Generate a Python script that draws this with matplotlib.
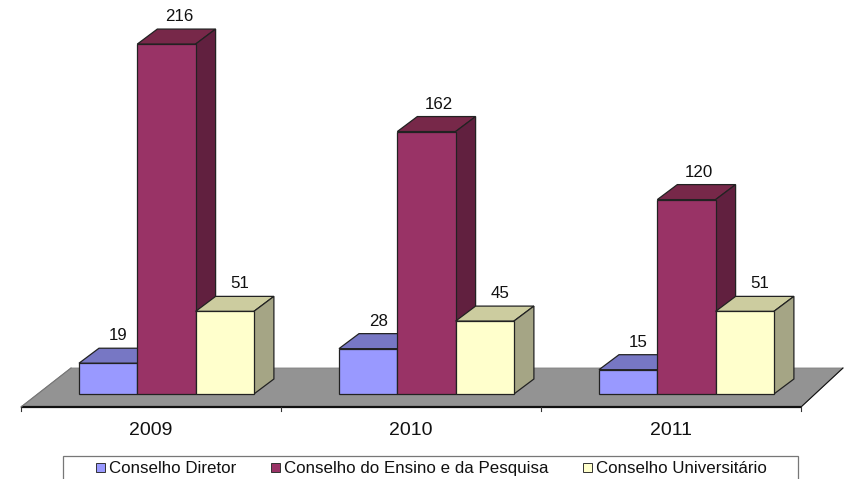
import matplotlib
matplotlib.use('Agg')
import matplotlib.pyplot as plt
from matplotlib.patches import Polygon, Rectangle
from matplotlib.transforms import Affine2D

plt.rcParams['font.family'] = ['Liberation Sans', 'DejaVu Sans']

years = ['2009', '2010', '2011']
series = ['Conselho Diretor', 'Conselho do Ensino e da Pesquisa', 'Conselho Universitário']
diretor = [19, 28, 15]
ensino = [216, 162, 120]
universitario = [51, 45, 51]

front_colors = ['#9999FF', '#993366', '#FFFFCC']
top_colors = ['#7777C4', '#772849', '#CCCC9F']
side_colors = ['#5E5E9E', '#61203F', '#A5A585']

W, H = 852, 479
X0, Y0 = 21, 394      # pixel of the first group's left edge / value zero
GROUP_PX = 260
VALUE_PX = 1.62
# 3d depth, in axis units
DX = 20 / GROUP_PX
DY = 15 / VALUE_PX
BAR_W = 58.3 / GROUP_PX
BAR_START = 58 / GROUP_PX

fig = plt.figure(figsize=(W / 100, H / 100), dpi=100)
ax = fig.add_axes([0, 0, 1, 1])
ax.set_xlim(-X0 / GROUP_PX, (W - X0) / GROUP_PX)
ax.set_ylim(-(H - Y0) / VALUE_PX, Y0 / VALUE_PX)
ax.axis('off')

# grey floor
floor_front = -13 / VALUE_PX
floor_back = 26 / VALUE_PX
n = len(years)
ax.add_patch(Polygon([(0, floor_front), (n, floor_front),
                      (n + 42 / GROUP_PX, floor_back), (50 / GROUP_PX, floor_back)],
                     fc='#939393', ec='#808080', lw=0.6, zorder=1))

# axis line and ticks
ax.plot([0, n], [floor_front, floor_front], color='#111111', lw=1.6, zorder=2,
        solid_capstyle='butt')
ax.plot([n, n + 42 / GROUP_PX], [floor_front, floor_back], color='#111111', lw=0.8, zorder=2)
ax.plot([0, 50 / GROUP_PX], [floor_front, floor_back], color='#777777', lw=0.8, zorder=2)
for i in range(n + 1):
    ax.plot([i, i], [floor_front, floor_front - 4 / VALUE_PX], color='#333333', lw=0.8, zorder=2)
for i, year in enumerate(years):
    ax.text(i + 0.5, -36.5 / VALUE_PX, year, ha='center', va='center', fontsize=14, color='#111111')


def bar3d(x, value, k):
    front = [(x, 0), (x + BAR_W, 0), (x + BAR_W, value), (x, value)]
    top = [(x, value), (x + BAR_W, value), (x + BAR_W + DX, value + DY), (x + DX, value + DY)]
    side = [(x + BAR_W, 0), (x + BAR_W + DX, DY), (x + BAR_W + DX, value + DY), (x + BAR_W, value)]
    z = 3 + k
    ax.add_patch(Polygon(top, fc=top_colors[k], ec='#222222', lw=0.9, zorder=z))
    ax.add_patch(Polygon(side, fc=side_colors[k], ec='#222222', lw=0.9, zorder=z))
    ax.add_patch(Polygon(front, fc=front_colors[k], ec='#222222', lw=0.9, zorder=z))
    label_x = x + BAR_W / 2 + DX / 2 + k * 2.5 / GROUP_PX
    ax.text(label_x, value + DY + 12.5 / VALUE_PX, str(value), ha='center', va='center',
            fontsize=12.2, color='#111111', zorder=10)


for i in range(n):
    for k, vals in enumerate([diretor, ensino, universitario]):
        bar3d(i + BAR_START + k * BAR_W, vals[i], k)

# legend box, cut off by the bottom of the picture
px = Affine2D().scale(1, -1).translate(0, H)
fig.add_artist(Rectangle((62.5, 456), 735, 30, transform=px, fc='white', ec='#777777', lw=0.9))
for name, color, sx in zip(series, front_colors, [96, 271, 583]):
    fig.add_artist(Rectangle((sx, 463), 9, 9, transform=px, fc=color, ec='#333333', lw=0.7))
    fig.text((sx + 13) / W, 1 - 468.5 / H, name, ha='left', va='center', fontsize=12.2, color='#111111')

fig.savefig('out.png', dpi=100)
